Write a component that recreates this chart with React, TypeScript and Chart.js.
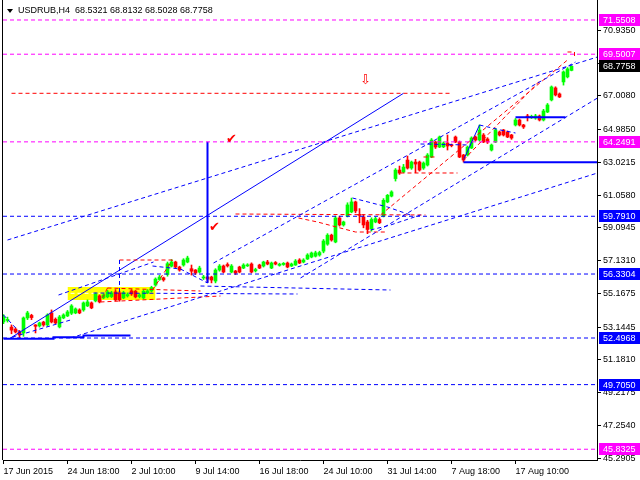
import { useEffect, useRef } from "react";
import { Chart, registerables } from "chart.js";

Chart.register(...registerables);

// ---------- data ----------
const symbol = "USDRUB";
const timeframe = "H4";

const opens = [
  53.46, 53.56, 53.15, 53.03, 52.86, 52.8, 53.7, 53.85, 53.28, 53.22,
  53.45, 53.28, 54.0, 53.62, 53.16, 53.7, 53.82, 53.98, 54.0, 54.18,
  54.18, 54.42, 54.6, 54.72, 55.02, 54.9, 54.96, 54.98, 55.26, 55.2,
  54.9, 55.02, 55.32, 55.3, 54.98, 54.9, 55.2, 55.32, 55.67, 56.0,
  56.1, 56.3, 56.8, 57.05, 56.75, 56.87, 57.05, 56.65, 56.57, 56.45,
  56.1, 56.15, 56.15, 55.91, 56.57, 56.81, 56.9, 56.45, 56.51, 56.75,
  56.69, 56.82, 56.93, 56.52, 56.87, 56.81, 57.05, 56.69, 57.02, 56.85,
  56.9, 56.99, 56.81, 56.87, 57.17, 57.05, 57.23, 57.35, 57.4, 57.47,
  57.7, 58.12, 58.66, 58.25, 59.69, 59.27, 59.81, 60.05, 60.65, 59.9,
  59.75, 59.45, 59.05, 59.45, 59.6, 59.8, 60.65, 61.0, 62.05, 62.56,
  62.44, 63.16, 62.68, 63.04, 63.04, 62.68, 62.86, 63.34, 64.24, 63.94,
  63.95, 64.18, 64.08, 64.54, 64.24, 63.46, 63.46, 63.88, 64.54, 64.36,
  64.66, 64.42, 63.76, 64.24, 64.84, 64.96, 64.84, 64.66, 65.26, 65.56,
  65.26, 65.8, 65.7, 65.68, 65.8, 65.56, 66.04, 66.76, 67.48, 67.12,
  67.84, 68.14, 68.5321,
];
const highs = [
  53.9, 53.75, 53.28, 53.1, 52.95, 53.76, 54.1, 53.92, 53.3, 53.45,
  53.5, 53.95, 54.18, 53.7, 53.85, 53.95, 54.15, 54.5, 54.3, 54.25,
  54.66, 54.78, 54.66, 55.2, 55.08, 55.15, 55.35, 55.3, 55.4, 55.3,
  55.3, 55.2, 55.4, 55.35, 55.15, 55.38, 55.4, 55.6, 56.1, 56.25,
  56.15, 57.05, 57.2, 57.1, 56.8, 57.25, 57.4, 56.87, 56.6, 56.8,
  56.25, 56.2, 56.2, 56.65, 56.9, 56.87, 57.0, 56.9, 56.55, 56.8,
  56.95, 56.95, 57.0, 56.68, 56.92, 57.1, 57.15, 57.05, 57.08, 56.98,
  57.02, 57.05, 56.99, 57.2, 57.25, 57.25, 57.55, 57.65, 57.7, 57.7,
  58.4, 58.75, 58.72, 59.8, 59.8, 59.5, 60.6, 60.88, 60.7, 60.25,
  59.9, 59.55, 59.7, 59.75, 59.7, 60.85, 61.1, 61.32, 62.65, 62.8,
  62.9, 63.4, 63.1, 63.2, 63.1, 63.05, 63.55, 64.45, 64.3, 64.6,
  64.25, 64.66, 64.12, 64.6, 64.3, 63.5, 64.0, 64.55, 64.6, 65.26,
  64.75, 64.5, 64.12, 65.05, 64.9, 65.0, 64.9, 64.7, 65.65, 65.62,
  65.3, 65.9, 65.85, 65.9, 65.86, 66.2, 66.55, 67.6, 67.55, 67.18,
  68.5, 68.7, 68.8132,
];
const lows = [
  53.35, 53.45, 52.75, 52.8, 52.5, 52.6, 53.6, 53.6, 52.8, 53.15,
  53.2, 53.2, 53.4, 53.35, 53.1, 53.65, 53.78, 53.9, 53.95, 53.95,
  54.1, 54.38, 54.25, 54.66, 54.6, 54.85, 54.9, 54.92, 54.72, 54.7,
  54.85, 54.95, 55.05, 54.9, 54.9, 54.85, 55.15, 55.25, 55.6, 55.95,
  55.9, 56.2, 56.75, 56.7, 56.5, 56.8, 57.0, 56.27, 56.3, 56.4,
  56.0, 55.85, 55.8, 55.8, 56.5, 56.4, 56.75, 56.4, 56.3, 56.4,
  56.65, 56.78, 56.4, 56.45, 56.65, 56.75, 56.88, 56.65, 56.88, 56.8,
  56.85, 56.7, 56.78, 56.85, 56.95, 57.0, 57.2, 57.3, 57.35, 57.4,
  57.6, 58.05, 58.3, 58.2, 59.2, 59.2, 59.75, 60.0, 60.0, 59.4,
  59.1, 58.75, 58.9, 59.4, 59.35, 59.75, 60.6, 60.95, 61.9, 62.3,
  62.4, 62.62, 62.6, 62.4, 62.5, 62.6, 62.8, 63.3, 63.85, 63.9,
  63.9, 63.76, 63.95, 64.2, 63.3, 63.04, 63.4, 63.85, 64.3, 64.3,
  64.2, 64.15, 63.7, 64.2, 64.6, 64.6, 64.5, 64.4, 65.2, 65.2,
  65.05, 65.5, 65.65, 65.6, 65.5, 65.5, 66.0, 66.7, 67.0, 66.9,
  67.65, 68.08, 68.5028,
];
const closes = [
  53.76, 53.6, 52.97, 52.86, 52.68, 53.7, 54.0, 53.72, 53.2, 53.4,
  53.28, 53.88, 53.46, 53.4, 53.76, 53.88, 54.06, 54.42, 54.24, 54.0,
  54.6, 54.66, 54.3, 55.14, 54.66, 55.08, 55.26, 55.2, 54.78, 54.78,
  55.2, 55.1, 55.14, 54.96, 55.08, 55.3, 55.32, 55.52, 56.03, 56.15,
  55.98, 56.95, 57.05, 56.75, 56.57, 57.17, 57.29, 56.5, 56.39, 56.69,
  56.15, 56.03, 55.97, 56.57, 56.81, 56.45, 56.82, 56.81, 56.39, 56.45,
  56.87, 56.88, 56.45, 56.6, 56.69, 57.05, 56.93, 56.99, 56.93, 56.92,
  56.97, 56.75, 56.93, 57.11, 56.99, 57.17, 57.47, 57.59, 57.6, 57.62,
  58.31, 58.66, 58.37, 59.69, 59.27, 59.45, 60.47, 60.65, 60.11, 59.85,
  59.27, 59.0, 59.6, 59.65, 59.4, 60.75, 61.05, 61.25, 62.56, 62.38,
  62.74, 62.68, 63.04, 62.92, 62.56, 62.98, 63.46, 64.36, 63.94, 64.54,
  64.18, 64.0, 64.02, 64.24, 63.34, 63.16, 63.94, 64.48, 64.36, 64.96,
  64.24, 64.24, 64.06, 64.96, 64.66, 64.66, 64.54, 64.48, 65.56, 65.26,
  65.14, 65.72, 65.78, 65.8, 65.56, 66.1, 66.46, 67.54, 67.06, 66.94,
  68.44, 68.62, 68.7758,
];

const xTickBars = [0, 16, 32, 48, 64, 80, 96, 112, 128];
const xTickLabels = [
  "17 Jun 2015", "24 Jun 18:00", "2 Jul 10:00", "9 Jul 14:00", "16 Jul 18:00",
  "24 Jul 10:00", "31 Jul 14:00", "7 Aug 18:00", "17 Aug 10:00",
];
const yTickValues = [
  70.935, 68.9715, 67.008, 64.985, 63.0215, 61.058, 59.0945, 57.131,
  55.1675, 53.1445, 51.181, 49.2175, 47.254, 45.2905,
];

const magentaLevels = [71.5508, 69.5007, 64.2491, 45.8325];
const blueLevels = [59.791, 56.3304, 52.4968, 49.705];

// trend objects: [bar, price] points
const blueDashedLines: number[][][] = [
  [[1, 58.369], [148.5, 69.334]],
  [[52.5, 56.991], [143, 69.034]],
  [[16.75, 52.497], [148.5, 62.384]],
  [[13.75, 55.074], [37.5, 57.051]],
  [[74.25, 56.092], [148.5, 66.877]],
  [[2.25, 52.557], [16.75, 53.576]],
  [[0, 53.876], [4.25, 52.797]],
  [[22.5, 55.194], [73.5, 55.134]],
  [[49.25, 55.613], [96.75, 55.373]],
  [[37.25, 56.811], [44.25, 56.631], [51, 55.793]],
  [[29, 57.171], [29, 55.194]],
  [[87.25, 60.886], [96, 60.347], [101.75, 59.867]],
  [[91.75, 58.968], [96.75, 59.268], [104.25, 59.867]],
  [[104.25, 64.121], [116.75, 64.061]],
  [[119, 65.26], [124.25, 64.96], [128, 64.78]],
];
const blueSolidThin: number[][][] = [
  [[1.75, 52.4968], [100, 67.159]],
  [[115, 63.163], [119, 65.26]],
];
const blueSolidThick: number[][][] = [
  [[51, 64.2491], [51, 55.793]],
  [[0, 52.45], [12.5, 52.45], [12.5, 52.55], [20, 52.55], [20, 52.64], [31.75, 52.64]],
  [[115, 63.025], [148.5, 63.025]],
  [[128, 65.721], [140.5, 65.721]],
];
const redDashedLines: number[][][] = [
  [[2, 67.159], [112.25, 67.159]],
  [[26, 55.493], [49.25, 55.314]],
  [[24.25, 54.655], [54.25, 55.014]],
  [[26, 55.493], [24.25, 54.655]],
  [[29, 57.171], [42.25, 57.171]],
  [[37.25, 55.373], [42.25, 57.171]],
  [[58, 59.927], [105.5, 59.867]],
  [[73.75, 59.687], [78.5, 59.448], [88, 58.848], [96, 58.848]],
  [[94.25, 59.867], [141, 69.154]],
  [[115, 63.163], [134.25, 67.956]],
  [[99.25, 62.384], [113.5, 62.384]],
  [[105, 63.343], [108.5, 63.343]],
  [[141, 69.634], [142.75, 69.634], [142.75, 69.334]],
];
const yellowZone = { fromBar: 16, toBar: 38, high: 55.553, low: 54.774 };
const whiteDashed: number[][] = [[16.75, 55.175], [24.25, 55.175]];

const checkMarks = [
  { bar: 57, price: 64.36 },
  { bar: 52.75, price: 59.088 },
];
const downArrow = { bar: 90.5, price: 67.926 };

// ---------- helpers ----------
const MAGENTA = "#ff00ff";
const BLUE = "#0000ff";
const RED = "#ff0000";
const GREEN = "#00ff00";
const FONT = '"Liberation Sans", Arial, sans-serif';

function lineDs(points: number[][], color: string, dash: number[], width = 1, order = 0) {
  return {
    type: "line" as const,
    data: points.map(([x, y]) => ({ x, y })),
    borderColor: color,
    backgroundColor: color,
    borderWidth: width,
    borderDash: dash,
    pointRadius: 0,
    fill: false,
    tension: 0,
    order,
  };
}

function buildDatasets() {
  const bullWick: any[] = [];
  const bullBody: any[] = [];
  const bearWick: any[] = [];
  const bearBody: any[] = [];
  for (let i = 0; i < opens.length; i++) {
    const o = opens[i], c = closes[i], h = highs[i], l = lows[i];
    const bull = c >= o;
    let lo = Math.min(o, c), hi = Math.max(o, c);
    if (hi - lo < 0.06) {
      const m = (hi + lo) / 2;
      lo = m - 0.03;
      hi = m + 0.03;
    }
    (bull ? bullWick : bearWick).push({ x: i, y: [l, h] });
    (bull ? bullBody : bearBody).push({ x: i, y: [lo, hi] });
  }
  const barDs = (data: any[], color: string, thickness: number, order: number) => ({
    type: "bar" as const,
    data,
    backgroundColor: color,
    borderWidth: 0,
    barThickness: thickness,
    grouped: false,
    order,
  });

  const ds: any[] = [];
  ds.push({
    type: "line",
    data: [
      { x: yellowZone.fromBar, y: yellowZone.high },
      { x: yellowZone.toBar, y: yellowZone.high },
    ],
    borderWidth: 0,
    borderColor: "rgba(0,0,0,0)",
    backgroundColor: "#ffff00",
    fill: { value: yellowZone.low },
    pointRadius: 0,
    order: 20,
  });
  ds.push(lineDs(whiteDashed, "#ffffff", [4, 3], 1, 19));
  ds.push(barDs(bullWick, GREEN, 1, 12));
  ds.push(barDs(bearWick, RED, 1, 12));
  ds.push(barDs(bullBody, GREEN, 3, 11));
  ds.push(barDs(bearBody, RED, 3, 11));

  const xMin = -0.125, xMax = 148.375;
  magentaLevels.forEach((p) => ds.push(lineDs([[xMin, p], [xMax, p]], MAGENTA, [4, 3])));
  blueLevels.forEach((p) => ds.push(lineDs([[xMin, p], [xMax, p]], BLUE, [4, 3])));
  blueDashedLines.forEach((pts) => ds.push(lineDs(pts, BLUE, [4, 3])));
  redDashedLines.forEach((pts) => ds.push(lineDs(pts, RED, [4, 3])));
  blueSolidThin.forEach((pts) => ds.push(lineDs(pts, BLUE, [], 1)));
  blueSolidThick.forEach((pts) => ds.push(lineDs(pts, BLUE, [], 2)));
  return ds;
}

const overlayPlugin = {
  id: "mtOverlay",
  afterDraw(chart: any) {
    const ctx = chart.ctx as CanvasRenderingContext2D;
    const ca = chart.chartArea;
    const xs = chart.scales.x;
    const ys = chart.scales.y;
    ctx.save();

    // left frame line
    ctx.strokeStyle = "#000";
    ctx.lineWidth = 1;
    ctx.setLineDash([]);
    ctx.beginPath();
    ctx.moveTo(ca.left - 0.5, 0);
    ctx.lineTo(ca.left - 0.5, ca.bottom);
    ctx.stroke();

    // check marks and arrow
    ctx.fillStyle = RED;
    ctx.textAlign = "center";
    ctx.textBaseline = "middle";
    ctx.font = '13px "DejaVu Sans"';
    checkMarks.forEach((m) => {
      ctx.fillText("\u2714", xs.getPixelForValue(m.bar), ys.getPixelForValue(m.price));
    });
    ctx.font = '13px "DejaVu Sans"';
    ctx.fillText("\u21E9", xs.getPixelForValue(downArrow.bar), ys.getPixelForValue(downArrow.price));

    // title
    const n = opens.length - 1;
    ctx.fillStyle = "#000";
    ctx.beginPath();
    ctx.moveTo(7, 9);
    ctx.lineTo(13, 9);
    ctx.lineTo(10, 13);
    ctx.closePath();
    ctx.fill();
    ctx.font = `9px ${FONT}`;
    ctx.textAlign = "left";
    ctx.textBaseline = "middle";
    const title = `${symbol},${timeframe}  ${opens[n].toFixed(4)} ${highs[n].toFixed(4)} ${lows[n].toFixed(4)} ${closes[n].toFixed(4)}`;
    ctx.fillText(title, 18, 11);

    // price tags
    const tag = (price: number, bg: string) => {
      const py = Math.round(ys.getPixelForValue(price));
      ctx.fillStyle = bg;
      ctx.fillRect(ca.right + 2, py - 6, 640 - ca.right - 2, 12);
      ctx.fillStyle = "#ffffff";
      ctx.font = `9px ${FONT}`;
      ctx.textAlign = "left";
      ctx.textBaseline = "middle";
      ctx.fillText(price.toFixed(4), ca.right + 6, py + 0.5);
    };
    magentaLevels.forEach((p) => tag(p, MAGENTA));
    blueLevels.forEach((p) => tag(p, BLUE));
    tag(closes[n], "#000000");

    ctx.restore();
  },
};

export default function App() {
  const ref = useRef<HTMLCanvasElement | null>(null);
  useEffect(() => {
    document.body.style.margin = "0";
    const canvas = ref.current;
    if (!canvas) return;
    const chart = new Chart(canvas, {
      type: "bar",
      data: { datasets: buildDatasets() },
      options: {
        animation: false,
        responsive: false,
        maintainAspectRatio: false,
        events: [],
        layout: { padding: { left: 3, right: 0, top: 0, bottom: 0 }, autoPadding: false },
        plugins: {
          legend: { display: false },
          tooltip: { enabled: false },
          title: { display: false },
        },
        scales: {
          x: {
            type: "linear",
            min: -0.125,
            max: 148.375,
            offset: false,
            grid: {
              offset: false,
              drawOnChartArea: false,
              drawTicks: true,
              tickLength: 4,
              color: "#000",
              tickColor: "#000",
            },
            border: { display: true, color: "#000", width: 1 },
            ticks: {
              autoSkip: false,
              maxRotation: 0,
              minRotation: 0,
              align: "start",
              padding: 2,
              color: "#000",
              font: { family: FONT, size: 9 },
              callback: (v: any) => {
                const k = xTickBars.indexOf(Number(v));
                return k >= 0 ? xTickLabels[k] : "";
              },
            },
            afterBuildTicks: (axis: any) => {
              axis.ticks = xTickBars.map((v) => ({ value: v }));
            },
            afterFit: (axis: any) => {
              axis.height = 20;
              axis.paddingLeft = 0;
              axis.paddingRight = 0;
            },
          },
          y: {
            type: "linear",
            position: "right",
            min: 45.188,
            max: 72.749,
            grid: {
              drawOnChartArea: false,
              drawTicks: true,
              tickLength: 4,
              color: "#000",
              tickColor: "#000",
            },
            border: { display: true, color: "#000", width: 1 },
            ticks: {
              padding: 2,
              color: "#000",
              font: { family: FONT, size: 9 },
              callback: (v: any) => Number(v).toFixed(4),
            },
            afterBuildTicks: (axis: any) => {
              axis.ticks = yTickValues.map((v) => ({ value: v }));
            },
            afterFit: (axis: any) => {
              axis.width = 43;
              axis.paddingTop = 0;
              axis.paddingBottom = 0;
            },
          },
        },
      } as any,
      plugins: [overlayPlugin],
    });
    return () => chart.destroy();
  }, []);

  return (
    <div style={{ position: "absolute", left: 0, top: 0, width: 640, height: 480, background: "#fff" }}>
      <canvas ref={ref} width={640} height={480} style={{ display: "block", width: 640, height: 480 }} />
    </div>
  );
}
